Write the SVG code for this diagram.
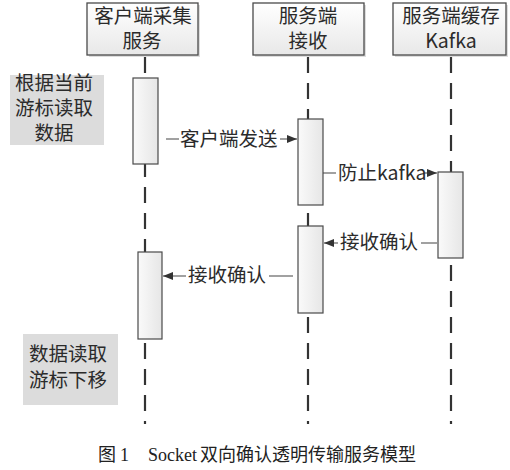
<svg xmlns="http://www.w3.org/2000/svg" width="510" height="470" viewBox="0 0 510 470">
<defs>
<linearGradient id="gHead" x1="0" y1="0" x2="0" y2="1">
<stop offset="0" stop-color="#ffffff"/>
<stop offset="1" stop-color="#e8e8e8"/>
</linearGradient>
<linearGradient id="gAct" x1="0" y1="0" x2="1" y2="0">
<stop offset="0" stop-color="#fafafa"/>
<stop offset="1" stop-color="#e6e6e6"/>
</linearGradient>
<marker id="arr" markerUnits="userSpaceOnUse" markerWidth="11" markerHeight="9" refX="10" refY="4" orient="auto">
<path d="M0,0 L10,4 L0,8 z" fill="#333"/>
</marker>
<style>
.t{font-family:"Noto Sans CJK SC","Noto Sans",sans-serif;font-size:19.5px;fill:#2b2b2b}
.hd{fill:url(#gHead);stroke:#4a4a4a;stroke-width:1.3}
.sh{fill:#cfcfcf;opacity:0.7}
.act{fill:url(#gAct);stroke:#4a4a4a;stroke-width:1.2}
.life{stroke:#333;stroke-width:2.2;stroke-dasharray:16 10;fill:none}
.msg{stroke:#444;stroke-width:1.2;fill:none}
.note{fill:#dcdcdc}
.cap{font-family:"Liberation Serif","Noto Sans CJK SC",serif;font-size:18px;fill:#222}
</style>
</defs>
<rect width="510" height="470" fill="#ffffff"/>

<g id="lifelines">
<line class="life" x1="145" y1="57" x2="145" y2="424"/>
<line class="life" x1="308" y1="57" x2="308" y2="424"/>
<line class="life" x1="451" y1="57" x2="451" y2="424"/>
</g>

<g id="client">
<rect class="sh" x="89" y="5" width="111" height="52"/>
<rect class="hd" x="87" y="3" width="111" height="52"/>
<text class="t" x="143" y="23" text-anchor="middle">客户端采集</text>
<text class="t" x="142" y="48" text-anchor="middle">服务</text>
</g>
<g id="server">
<rect class="sh" x="255" y="5" width="111" height="52"/>
<rect class="hd" x="253" y="3" width="111" height="52"/>
<text class="t" x="308" y="23" text-anchor="middle">服务端</text>
<text class="t" x="308" y="48" text-anchor="middle">接收</text>
</g>
<g id="kafka">
<rect class="sh" x="395" y="5" width="113" height="52"/>
<rect class="hd" x="393" y="3" width="113" height="52"/>
<text class="t" x="451" y="23" text-anchor="middle">服务端缓存</text>
<text class="t" x="451" y="48" text-anchor="middle">Kafka</text>
</g>

<g id="note1">
<rect class="note" x="10" y="75" width="94" height="70"/>
<text class="t" x="54" y="90" text-anchor="middle">根据当前</text>
<text class="t" x="54" y="115" text-anchor="middle">游标读取</text>
<text class="t" x="54" y="140" text-anchor="middle">数据</text>
</g>
<g id="note2">
<rect class="note" x="23" y="334" width="95" height="71"/>
<text class="t" x="68" y="361" text-anchor="middle">数据读取</text>
<text class="t" x="68" y="387" text-anchor="middle">游标下移</text>
</g>

<g id="act1"><rect class="act" x="133" y="78" width="25" height="86"/></g>
<g id="act2"><rect class="act" x="298" y="119" width="25" height="86"/></g>
<g id="act3"><rect class="act" x="438" y="172" width="25" height="86"/></g>
<g id="act4"><rect class="act" x="298" y="226" width="25" height="87"/></g>
<g id="act5"><rect class="act" x="138" y="252" width="24" height="87"/></g>

<g id="connectors">
<path class="msg" d="M166,139 H179 M280,139 H297" marker-end="url(#arr)"/>
<text class="t" x="180" y="146">客户端发送</text>
<path class="msg" d="M323,173 H336 M424,173 H437" marker-end="url(#arr)"/>
<text class="t" x="338" y="180">防止kafka</text>
<path class="msg" d="M437,243 H421 M338,243 H324" marker-end="url(#arr)"/>
<text class="t" x="340" y="249">接收确认</text>
<path class="msg" d="M293,276 H269 M186,276 H163" marker-end="url(#arr)"/>
<text class="t" x="188" y="282">接收确认</text>
</g>

<g id="caption">
<text class="cap" y="461"><tspan x="98">图</tspan><tspan x="120">1</tspan><tspan x="148">Socket</tspan><tspan x="200">双向确认透明传输服务模型</tspan></text>
</g>
</svg>
